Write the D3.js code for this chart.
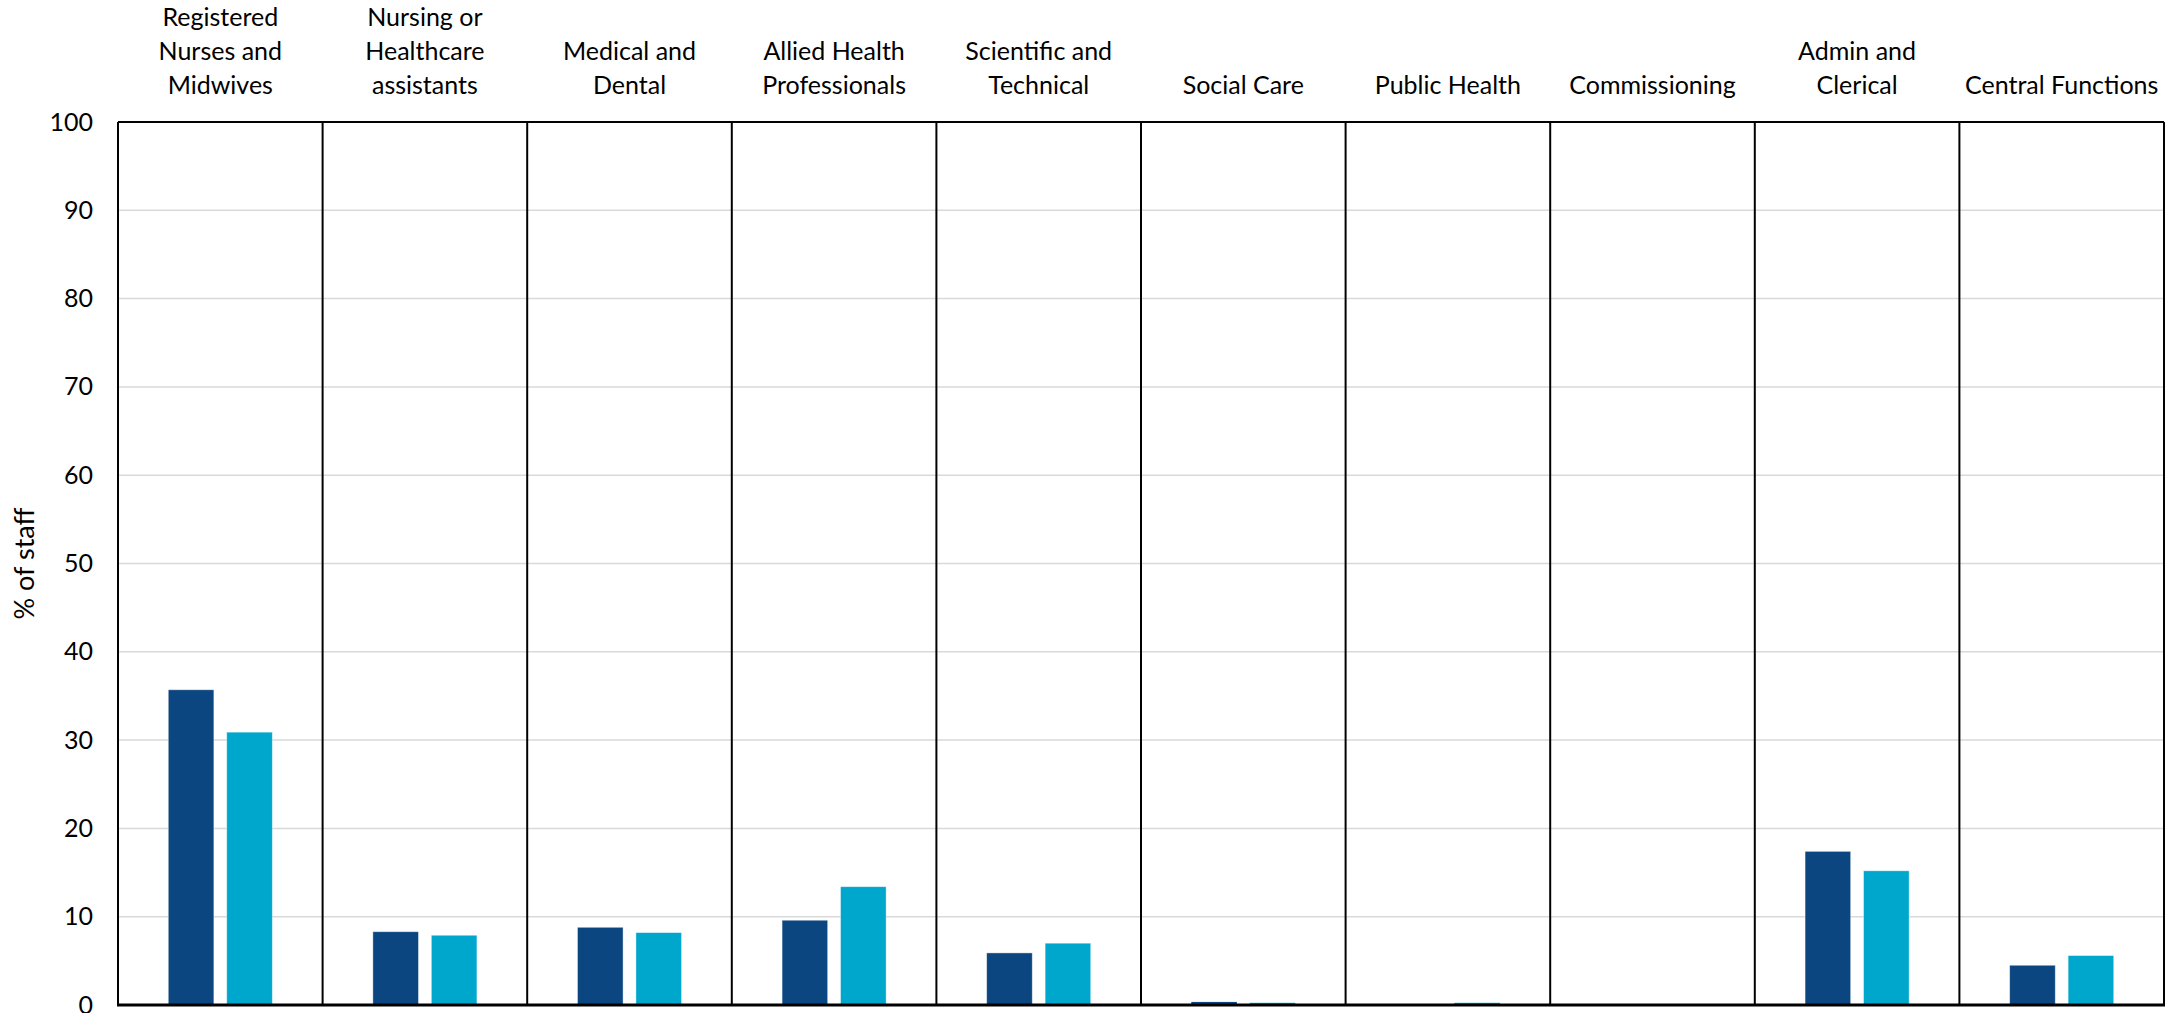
<!DOCTYPE html>
<html>
<head>
<meta charset="utf-8">
<script src="https://cdn.jsdelivr.net/npm/d3@7"></script>
<style>
  html, body { margin: 0; padding: 0; background: #fff; }
  svg { display: block; }
  text { font-family: Lato, "Open Sans", sans-serif; fill: #000; }
</style>
</head>
<body>
<svg id="chart" width="2182" height="1013"></svg>
<script>
// ---- data ----
const categories = [
  "Registered Nurses and Midwives",
  "Nursing or Healthcare assistants",
  "Medical and Dental",
  "Allied Health Professionals",
  "Scientific and Technical",
  "Social Care",
  "Public Health",
  "Commissioning",
  "Admin and Clerical",
  "Central Functions"
];
const categoryLabelLines = [
  ["Registered", "Nurses and", "Midwives"],
  ["Nursing or", "Healthcare", "assistants"],
  ["Medical and", "Dental"],
  ["Allied Health", "Professionals"],
  ["Scientific and", "Technical"],
  ["Social Care"],
  ["Public Health"],
  ["Commissioning"],
  ["Admin and", "Clerical"],
  ["Central Functions"]
];
const seriesNames = ["Series A", "Series B"];
const seriesA = [35.7, 8.3, 8.8, 9.6, 5.9, 0.35, 0.0, 0.0, 17.4, 4.5];
const seriesB = [30.9, 7.9, 8.2, 13.4, 7.0, 0.25, 0.25, 0.0, 15.2, 5.6];
const yTicks = [0, 10, 20, 30, 40, 50, 60, 70, 80, 90, 100];
const yTitle = "% of staff";

// ---- layout ----
const plotL = 118, plotR = 2164, plotT = 122, plotB = 1005;
const colors = ["#0B4680", "#00A7CD"];

const svg = d3.select("#chart");

const x = d3.scaleBand().domain(categories).range([plotL, plotR]).padding(0);
const xs = d3.scaleBand().domain(seriesNames).range([0, x.bandwidth()])
  .paddingInner(0.22).paddingOuter(0.86);
const y = d3.scaleLinear().domain([0, 100]).range([plotB, plotT]);

// gridlines
svg.append("g")
  .selectAll("line")
  .data(yTicks.filter(d => d > 0 && d < 100))
  .join("line")
  .attr("x1", plotL).attr("x2", plotR)
  .attr("y1", d => y(d)).attr("y2", d => y(d))
  .attr("stroke", "#d9d9d9").attr("stroke-width", 1.5);

// bars
const rows = categories.map((c, i) => ({ c, vals: [seriesA[i], seriesB[i]] }));
const groups = svg.append("g").selectAll("g")
  .data(rows).join("g")
  .attr("transform", d => `translate(${x(d.c)},0)`);
groups.selectAll("rect")
  .data(d => d.vals.map((v, j) => ({ v, s: seriesNames[j], j })))
  .join("rect")
  .attr("x", d => xs(d.s))
  .attr("width", xs.bandwidth())
  .attr("y", d => y(d.v))
  .attr("height", d => y(0) - y(d.v))
  .attr("fill", d => colors[d.j])
  .attr("stroke", d => d.v > 1 ? "#ffffff" : "none")
  .attr("stroke-opacity", 0.5)
  .attr("stroke-width", 0.8);

// category dividers
svg.append("g").selectAll("line")
  .data(categories.slice(1))
  .join("line")
  .attr("x1", d => x(d)).attr("x2", d => x(d))
  .attr("y1", plotT).attr("y2", plotB)
  .attr("stroke", "#000").attr("stroke-width", 2);

// frame
svg.append("line").attr("x1", plotL).attr("x2", plotR).attr("y1", plotT).attr("y2", plotT)
  .attr("stroke", "#000").attr("stroke-width", 2);
svg.append("line").attr("x1", plotL).attr("x2", plotL).attr("y1", plotT).attr("y2", plotB)
  .attr("stroke", "#000").attr("stroke-width", 2);
svg.append("line").attr("x1", plotR).attr("x2", plotR).attr("y1", plotT).attr("y2", plotB)
  .attr("stroke", "#000").attr("stroke-width", 2);
svg.append("line").attr("x1", plotL - 1).attr("x2", plotR + 1).attr("y1", plotB).attr("y2", plotB)
  .attr("stroke", "#000").attr("stroke-width", 3);

// y axis
const yAxis = d3.axisLeft(y).tickValues(yTicks).tickSize(0).tickPadding(25);
const ya = svg.append("g").attr("transform", `translate(${plotL},0)`).call(yAxis);
ya.select(".domain").remove();
ya.selectAll("text")
  .style("font-family", "Lato, 'Open Sans', sans-serif")
  .attr("font-size", 25).attr("fill", "#000");

// y title
svg.append("text")
  .attr("transform", `translate(34, ${(plotT + plotB) / 2}) rotate(-90)`)
  .attr("text-anchor", "middle")
  .attr("font-size", 27)
  .text(yTitle);

// category headers (bottom-aligned)
const lineH = 34, lastBaseline = 94;
categoryLabelLines.forEach((lines, i) => {
  const cx = x(categories[i]) + x.bandwidth() / 2;
  const n = lines.length;
  const t = svg.append("text").attr("text-anchor", "middle").attr("font-size", 25);
  lines.forEach((ln, k) => {
    t.append("tspan").attr("x", cx).attr("y", lastBaseline - (n - 1 - k) * lineH).text(ln);
  });
});
</script>
</body>
</html>
